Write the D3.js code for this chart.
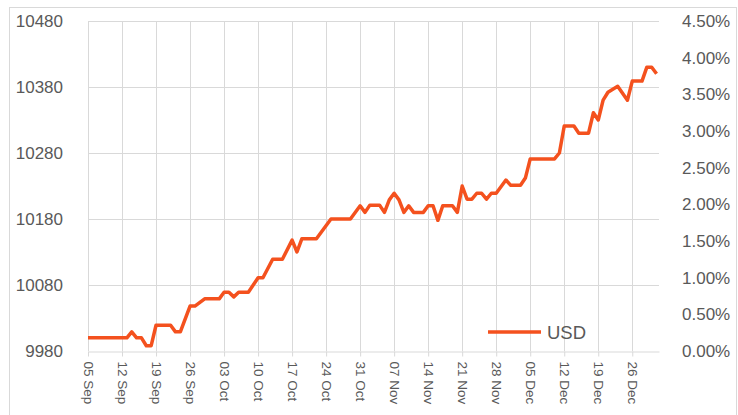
<!DOCTYPE html>
<html lang="en">
<head>
<meta charset="utf-8">
<title>USD</title>
<script src="https://d3js.org/d3.v7.min.js"></script>
<style>
  body { margin: 0; background: #fff; }
  svg text { font-family: "Liberation Sans", Arial, sans-serif; fill: #595959; }
</style>
</head>
<body>
<div id="chart"></div>
<script>
// day offsets from 05 Sep and the value read at each point
const days = [0, 8, 9, 10, 11, 12, 13, 14, 17, 18, 19, 21, 22, 24, 27, 28, 29, 30, 31, 33,
  35, 36, 38, 40, 42, 43, 44, 47, 50, 54, 56, 57, 58, 60, 61, 62, 63, 64, 65, 66,
  67, 69, 70, 71, 72, 73, 75, 76, 77, 78, 79, 80, 81, 82, 83, 84, 86, 87, 89, 90,
  91, 96, 97, 98, 100, 101, 103, 104, 105, 106, 107, 109, 111, 112, 114, 115, 116, 117];
const usd = [10000, 10000, 10009, 10000, 10000, 9988, 9988, 10019, 10019, 10009, 10009, 10048, 10048, 10059, 10059, 10069, 10069, 10062, 10069, 10069,
  10091, 10091, 10119, 10119, 10148, 10130, 10150, 10150, 10180, 10180, 10200, 10190, 10201, 10201, 10190, 10209, 10219, 10209, 10190, 10200,
  10190, 10190, 10200, 10200, 10178, 10200, 10200, 10190, 10230, 10210, 10210, 10219, 10219, 10210, 10219, 10219, 10239, 10231, 10231, 10242,
  10271, 10271, 10280, 10321, 10321, 10310, 10310, 10341, 10330, 10360, 10372, 10381, 10360, 10389, 10389, 10410, 10410, 10400];

const leftTicks = [9980, 10080, 10180, 10280, 10380, 10480];
const rightTicks = [0, 0.005, 0.01, 0.015, 0.02, 0.025, 0.03, 0.035, 0.04, 0.045];
const tickLabels = ["05 Sep", "12 Sep", "19 Sep", "26 Sep", "03 Oct", "10 Oct", "17 Oct", "24 Oct",
  "31 Oct", "07 Nov", "14 Nov", "21 Nov", "28 Nov", "05 Dec", "12 Dec", "19 Dec", "26 Dec"];

const start = new Date(2022, 8, 5);
const data = days.map((d, i) => ({ date: d3.timeDay.offset(start, d), value: usd[i] }));
const tickDates = tickLabels.map((t, i) => d3.timeDay.offset(start, i * 7));

const width = 738, height = 415;
const margin = { left: 88, right: 659, top: 21, bottom: 351 };

const svg = d3.select("#chart").append("svg")
  .attr("width", width)
  .attr("height", height);

// chart area border
svg.append("rect")
  .attr("x", 9.5).attr("y", 7.5)
  .attr("width", 727).attr("height", 420)
  .attr("fill", "none")
  .attr("stroke", "#d9d9d9");

const x = d3.scaleTime()
  .domain([start, new Date(2022, 11, 31, 12)])
  .range([margin.left, margin.right]);

const y = d3.scaleLinear()
  .domain([9980, 10480])
  .range([margin.bottom, margin.top]);

const y2 = d3.scaleLinear()
  .domain([0, 0.045])
  .range([margin.bottom, margin.top]);

// horizontal gridlines
svg.append("g")
  .selectAll("line")
  .data(leftTicks.slice(1))
  .join("line")
  .attr("x1", margin.left).attr("x2", margin.right)
  .attr("y1", d => Math.round(y(d)) + 0.5)
  .attr("y2", d => Math.round(y(d)) + 0.5)
  .attr("stroke", "#d9d9d9");

// vertical gridlines
svg.append("g")
  .selectAll("line")
  .data(tickDates)
  .join("line")
  .attr("x1", d => Math.round(x(d)) + 0.5)
  .attr("x2", d => Math.round(x(d)) + 0.5)
  .attr("y1", margin.top).attr("y2", margin.bottom)
  .attr("stroke", "#d9d9d9");

// x axis
const xAxis = svg.append("g")
  .attr("transform", `translate(0,${margin.bottom + 0.5})`)
  .call(d3.axisBottom(x).tickValues(tickDates).tickFormat((d, i) => tickLabels[i]).tickSize(5).tickSizeOuter(0));
xAxis.select(".domain").attr("stroke", "#d9d9d9");
xAxis.selectAll(".tick line").attr("stroke", "#d9d9d9");
xAxis.selectAll(".tick text")
  .attr("transform", "rotate(90)")
  .attr("x", 10)
  .attr("y", 0)
  .attr("dy", "0.35em")
  .style("text-anchor", "start")
  .style("font-size", "13.5px")
  .attr("fill", "#595959");

// left axis
const yAxis = svg.append("g")
  .attr("transform", `translate(${margin.left},0)`)
  .call(d3.axisLeft(y).tickValues(leftTicks).tickFormat(d3.format("d")).tickSize(0).tickPadding(25));
yAxis.select(".domain").remove();
yAxis.selectAll("text").style("font-size", "17px").attr("fill", "#595959");

// right axis
const y2Axis = svg.append("g")
  .attr("transform", `translate(${margin.right},0)`)
  .call(d3.axisRight(y2).tickValues(rightTicks).tickFormat(d3.format(".2%")).tickSize(0).tickPadding(23));
y2Axis.select(".domain").remove();
y2Axis.selectAll("text").style("font-size", "17px").attr("fill", "#595959");

// the line
const line = d3.line()
  .x(d => x(d.date))
  .y(d => y(d.value));

svg.append("path")
  .datum(data)
  .attr("d", line)
  .attr("fill", "none")
  .attr("stroke", "#f4511e")
  .attr("stroke-width", 3.5)
  .attr("stroke-linejoin", "round");

// legend
const legend = svg.append("g").attr("transform", "translate(488,332)");
legend.append("line")
  .attr("x1", 0).attr("x2", 53)
  .attr("y1", 0).attr("y2", 0)
  .attr("stroke", "#f4511e")
  .attr("stroke-width", 3.5);
legend.append("text")
  .attr("x", 59).attr("y", 0)
  .attr("dy", "0.36em")
  .style("font-size", "18.5px")
  .text("USD");
</script>
</body>
</html>
